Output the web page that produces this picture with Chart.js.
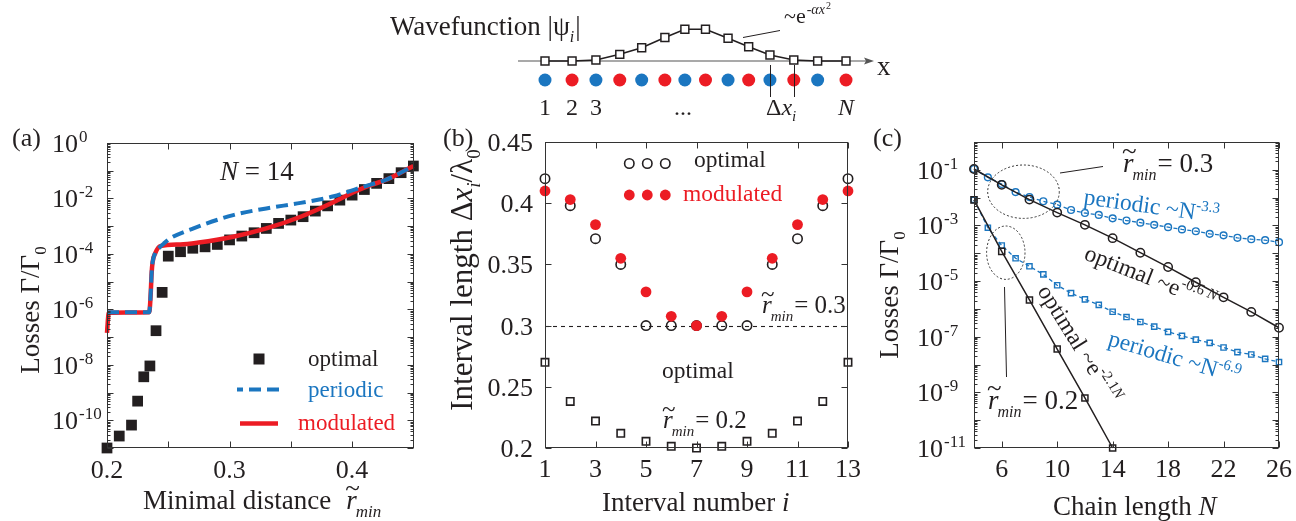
<!DOCTYPE html>
<html><head><meta charset="utf-8">
<script src="https://cdn.jsdelivr.net/npm/chart.js@4.4.1/dist/chart.umd.min.js"></script>
<style>
html,body{margin:0;padding:0;background:#fff;width:1296px;height:521px;overflow:hidden}
canvas{position:absolute;left:0;top:0;width:1296px;height:521px}
</style></head><body>
<canvas id="cs" width="1296" height="521"></canvas>
<canvas id="ca" width="1296" height="521"></canvas>
<canvas id="cb" width="1296" height="521"></canvas>
<canvas id="cc" width="1296" height="521"></canvas>
<script>
// ================= DATA =================
// schematic: site positions (in units of lambda_0) and |psi_i|
const sitePos = [0, 0.42, 0.79, 1.16, 1.50, 1.86, 2.17, 2.49, 2.84, 3.16, 3.49, 3.86, 4.23, 4.67];
const psiAbs  = [0.0, 0.0, 0.03, 0.21, 0.42, 0.74, 1.0, 1.0, 0.72, 0.45, 0.19, 0.03, 0.0, 0.0];

// (a) losses vs minimal distance, N = 14
const aOptX = [0.2,0.21,0.22,0.225,0.23,0.235,0.24,0.245,0.25,0.26,0.27,0.28,0.29,0.30,0.31,0.32,0.33,0.34,0.35,0.36,0.37,0.38,0.39,0.40,0.41,0.42,0.43,0.44,0.45];
const aOptY = [1.0e-11,2.7e-11,6.7e-11,4.9e-10,3.7e-9,9.1e-9,1.7e-7,4.1e-6,8.3e-5,1.2e-4,1.6e-4,1.8e-4,2.2e-4,3.2e-4,4.4e-4,5.8e-4,8.3e-4,1.26e-3,1.66e-3,2.2e-3,3.5e-3,5.4e-3,8.7e-3,1.32e-2,2.1e-2,3.5e-2,5.2e-2,8.5e-2,0.148];
const aPerX = [0.2,0.2345,0.2352,0.2358,0.2364,0.2372,0.2394,0.2435,0.2462,0.2516,0.2706,0.303,0.33,0.358,0.385,0.402,0.415,0.427,0.45];
const aPerY = [7.94e-7,7.94e-7,1.58e-6,5.01e-6,2.0e-5,5.01e-5,1.07e-4,1.82e-4,2.34e-4,3.63e-4,8.32e-4,2.51e-3,4.37e-3,6.92e-3,1.2e-2,2.09e-2,3.16e-2,4.57e-2,0.148];
const aModX = [0.2,0.2004,0.2009,0.2015,0.2345,0.2352,0.2358,0.2364,0.2372,0.2394,0.2435,0.2598,0.2748,0.303,0.33,0.358,0.385,0.402,0.415,0.427,0.45];
const aModY = [1.41e-7,2.51e-7,5.01e-7,7.59e-7,7.94e-7,1.58e-6,5.01e-6,2.0e-5,5.01e-5,1.07e-4,1.91e-4,2.19e-4,2.57e-4,4.17e-4,8.32e-4,2.19e-3,7.41e-3,1.74e-2,3.02e-2,4.57e-2,0.148];
const aXTickVals = [0.2,0.3,0.4];
const aXTickLabels = ['0.2','0.3','0.4'];
const aYTickVals = [1,1e-2,1e-4,1e-6,1e-8,1e-10];
const aYTickExps = ['0','-2','-4','-6','-8','-10'];

// (b) interval lengths
const bInterval = [1,2,3,4,5,6,7,8,9,10,11,12,13];
const bOptimal03 = [0.42,0.398,0.371,0.350,0.300,0.300,0.300,0.300,0.300,0.350,0.371,0.398,0.42];
const bModulated03 = [0.41,0.403,0.3825,0.355,0.3275,0.3076,0.300,0.3076,0.3275,0.355,0.3825,0.403,0.41];
const bOptimal02 = [0.27,0.238,0.222,0.212,0.2055,0.2014,0.200,0.2014,0.2055,0.212,0.222,0.238,0.27];
const bRmin03 = 0.3;
const bXTickVals = [1,3,5,7,9,11,13];
const bYTickVals = [0.2,0.25,0.3,0.35,0.4,0.45];
const bYTickLabels = ['0.2','0.25','0.3','0.35','0.4','0.45'];

// (c) losses vs chain length
const cNopt = [4,6,8,10,12,14,16,18,20,22,24,26];
const cOpt03 = [0.107,2.88e-2,8.5e-3,2.9e-3,1.05e-3,3.5e-4,1.05e-4,3.2e-5,9.1e-6,2.6e-6,7.8e-7,2.1e-7];
const cNper = [4,5,6,7,8,9,10,11,12,13,14,15,16,17,18,19,20,21,22,23,24,25,26];
const cPer03 = [0.107,5.37e-2,3.09e-2,1.58e-2,1.05e-2,7.4e-3,5.6e-3,3.6e-3,2.8e-3,2.4e-3,1.8e-3,1.5e-3,1.26e-3,1.05e-3,8.7e-4,7.2e-4,6.2e-4,5.0e-4,4.4e-4,3.6e-4,3.2e-4,2.95e-4,2.5e-4];
const cNopt02 = [4,6,8,10,12,14];
const cOpt02 = [8.3e-3,1.17e-4,2.1e-6,3.6e-8,6.3e-10,1.0e-11];
const cPer02 = [8.3e-3,8.3e-4,1.9e-4,6.6e-5,3.4e-5,1.74e-5,7.1e-6,3.7e-6,2.2e-6,1.4e-6,7.9e-7,5.1e-7,3.4e-7,2.3e-7,1.5e-7,1.07e-7,7.9e-8,6.0e-8,4.1e-8,2.8e-8,2.3e-8,1.6e-8,1.23e-8];
const cXTickVals = [6,10,14,18,22,26];
const cYTickVals = [1e-1,1e-3,1e-5,1e-7,1e-9,1e-11];
const cYTickExps = ['-1','-3','-5','-7','-9','-11'];

// ================= STYLE / HELPERS =================
const FONT = '"Liberation Serif","Times New Roman",serif';
const INK = '#231f20', BLUE = '#1b76c0', RED = '#ec1c24', FRAME = '#333';
const fnt = (s, i) => (i ? 'italic ' : '') + s + 'px ' + FONT;
const pts = (xs, ys) => xs.map((x, i) => ({x: x, y: ys[i]}));

function rich(ctx, x, y, segs, o) {
  o = o || {};
  const align = o.align || 'left', color = o.color || INK, rot = o.rot || 0;
  ctx.save(); ctx.translate(x, y); if (rot) ctx.rotate(rot);
  ctx.textBaseline = 'alphabetic'; ctx.textAlign = 'left';
  const ws = []; let w = 0;
  segs.forEach(s => { ctx.font = fnt(s.s, s.i); const m = ctx.measureText(s.t).width; ws.push(m); if (!s.over) w += m + (s.dx || 0); });
  let cx = align === 'center' ? -w / 2 : (align === 'right' ? -w : 0);
  let px = 0, pw = 0;
  segs.forEach((s, k) => {
    ctx.font = fnt(s.s, s.i); ctx.fillStyle = s.c || color;
    if (s.over) { ctx.fillText(s.t, px + pw / 2 - ws[k] / 2 + (s.dx || 0), s.dy || 0); return; }
    cx += (s.dx || 0); ctx.fillText(s.t, cx, s.dy || 0); px = cx; pw = ws[k]; cx += ws[k];
  });
  ctx.restore();
}
function rmin(size, sub) {
  return [{t: 'r', s: size, i: true}, {t: '~', s: size, over: true, dy: -0.46 * size, dx: 1},
          {t: 'min', s: sub, i: true, dy: 0.3 * size, dx: -1}];
}
function baseOpts(area, sx, sy) {
  return {
    responsive: false, animation: false, devicePixelRatio: 1, events: [],
    layout: {padding: {left: area.l, top: area.t, right: 1296 - area.r, bottom: 521 - area.b}},
    plugins: {legend: {display: false}, tooltip: {enabled: false}},
    scales: {x: Object.assign({display: false}, sx), y: Object.assign({display: false}, sy)}
  };
}
function line(ctx, x1, y1, x2, y2) { ctx.moveTo(x1, y1); ctx.lineTo(x2, y2); }
function frame(chart, cfg) {
  const ctx = chart.ctx, a = chart.chartArea, x = chart.scales.x, y = chart.scales.y;
  const L = Math.round(a.left) + 0.5, R = Math.round(a.right) - 0.5, T = Math.round(a.top) + 0.5, B = Math.round(a.bottom) - 0.5;
  ctx.save();
  ctx.strokeStyle = FRAME; ctx.lineWidth = 1;
  ctx.strokeRect(L, T, R - L, B - T);
  ctx.beginPath();
  cfg.xMarks.forEach(v => { const p = Math.round(x.getPixelForValue(v)) + 0.5; line(ctx, p, B, p, B - 6); line(ctx, p, T, p, T + 6); });
  cfg.yMarks.forEach(v => { const p = Math.round(y.getPixelForValue(v)) + 0.5; line(ctx, L, p, L + 6, p); line(ctx, R, p, R - 6, p); });
  (cfg.yMinor || []).forEach(v => { const p = Math.round(y.getPixelForValue(v)) + 0.5; line(ctx, L, p, L + 3, p); line(ctx, R, p, R - 3, p); });
  ctx.stroke();
  ctx.restore();
}
function logMarks(lo, hi) { const m = []; for (let e = lo; e <= hi; e++) m.push(Math.pow(10, e)); return m; }
function logMinor(lo, hi) { const m = []; for (let e = lo; e < hi; e++) for (let k = 2; k < 10; k++) m.push(k * Math.pow(10, e)); return m; }

// ================= SCHEMATIC =================
new Chart(document.getElementById('cs'), {
  type: 'line',
  data: {datasets: [{
    data: pts(sitePos, psiAbs), borderColor: INK, borderWidth: 1.6, tension: 0,
    pointStyle: 'rect', pointRadius: 5.6, pointBorderWidth: 1.5, pointBorderColor: INK, pointBackgroundColor: '#fff', clip: false
  }]},
  options: baseOpts({l: 545, t: 29.3, r: 846, b: 61}, {type: 'linear', min: 0, max: 4.67}, {type: 'linear', min: 0, max: 1}),
  plugins: [{
    id: 'schem',
    beforeDatasetsDraw(chart) {
      const ctx = chart.ctx, y0 = chart.scales.y.getPixelForValue(0);
      ctx.save(); ctx.strokeStyle = '#555'; ctx.fillStyle = '#555'; ctx.lineWidth = 1.2;
      ctx.beginPath(); ctx.moveTo(518, y0); ctx.lineTo(868, y0); ctx.stroke();
      ctx.beginPath(); ctx.moveTo(874, y0); ctx.lineTo(864, y0 - 3.5); ctx.lineTo(866, y0); ctx.lineTo(864, y0 + 3.5); ctx.closePath(); ctx.fill();
      ctx.restore();
    },
    afterDraw(chart) {
      const ctx = chart.ctx, xs = chart.scales.x, y0 = chart.scales.y.getPixelForValue(0);
      ctx.save();
      sitePos.forEach((p, i) => {
        ctx.beginPath(); ctx.fillStyle = i % 2 === 0 ? BLUE : RED;
        ctx.arc(xs.getPixelForValue(p), y0 + 19, 6.5, 0, Math.PI * 2); ctx.fill();
      });
      ctx.strokeStyle = INK; ctx.lineWidth = 1; ctx.beginPath();
      [10, 11].forEach(i => { const px = Math.round(xs.getPixelForValue(sitePos[i])) + 0.5; line(ctx, px, y0 + 4, px, y0 + 36); });
      line(ctx, 743, 37.5, 780, 30.5);
      ctx.stroke();
      ctx.restore();
      rich(ctx, 390, 35, [{t: 'Wavefunction |ψ', s: 27}, {t: 'i', s: 16, i: true, dy: 7}, {t: '|', s: 27, dx: 1}]);
      rich(ctx, 784, 23, [{t: '~e', s: 22}, {t: '-', s: 14, dy: -9, dx: 1}, {t: 'αx', s: 14, i: true, dy: -9}, {t: '2', s: 10, dy: -14, dx: 1}]);
      rich(ctx, 877, 75, [{t: 'x', s: 27}]);
      ['1', '2', '3'].forEach((t, i) => rich(ctx, xs.getPixelForValue(sitePos[i]), 115, [{t: t, s: 24}], {align: 'center'}));
      rich(ctx, 683, 115, [{t: '...', s: 24}], {align: 'center'});
      rich(ctx, 766, 115, [{t: 'Δ', s: 24}, {t: 'x', s: 24, i: true}, {t: 'i', s: 15, i: true, dy: 6}]);
      rich(ctx, xs.getPixelForValue(sitePos[13]), 115, [{t: 'N', s: 24, i: true}], {align: 'center'});
    }
  }]
});

// ================= PANEL (a) =================
new Chart(document.getElementById('ca'), {
  type: 'line',
  data: {datasets: [
    {data: pts(aPerX, aPerY), borderColor: BLUE, borderWidth: 4, borderDash: [12, 6], pointRadius: 0, cubicInterpolationMode: 'monotone', order: 0, clip: false},
    {data: pts(aModX, aModY), borderColor: RED, borderWidth: 4.5, pointRadius: 0, cubicInterpolationMode: 'monotone', order: 1, clip: false},
    {data: pts(aOptX, aOptY), showLine: false, pointStyle: 'rect', pointRadius: 7.6, pointBorderWidth: 0, pointBorderColor: INK, pointBackgroundColor: INK, order: 2, clip: false}
  ]},
  options: baseOpts({l: 107, t: 143, r: 414, b: 448}, {type: 'linear', min: 0.2, max: 0.4505}, {type: 'logarithmic', min: 1e-11, max: 1}),
  plugins: [{
    id: 'pa',
    afterDraw(chart) {
      const ctx = chart.ctx, x = chart.scales.x, y = chart.scales.y, a = chart.chartArea;
      frame(chart, {xMarks: [0.2, 0.25, 0.3, 0.35, 0.4, 0.45], yMarks: logMarks(-11, 0), yMinor: logMinor(-11, 0)});
      aYTickVals.forEach((v, i) => {
        const p = y.getPixelForValue(v);
        rich(ctx, a.left - 29, p + 9, [{t: '10', s: 26}], {align: 'right'});
        rich(ctx, a.left - 28, p - 1, [{t: aYTickExps[i], s: 17}]);
      });
      aXTickVals.forEach((v, i) => rich(ctx, x.getPixelForValue(v), 478, [{t: aXTickLabels[i], s: 26}], {align: 'center'}));
      rich(ctx, 38.5, 310, [{t: 'Losses Γ/Γ', s: 27}, {t: '0', s: 17, dy: 7}], {align: 'center', rot: -Math.PI / 2});
      rich(ctx, 143, 509, [{t: 'Minimal distance', s: 27}].concat([{t: 'r', s: 27, i: true, dx: 15}, {t: '~', s: 27, over: true, dy: -12, dx: 1}, {t: 'min', s: 17, i: true, dy: 8, dx: -1}]));
      rich(ctx, 12, 146, [{t: '(a)', s: 26}]);
      rich(ctx, 220, 180, [{t: 'N', s: 27, i: true}, {t: ' = 14', s: 27}]);
      // legend
      ctx.save();
      ctx.fillStyle = INK; ctx.fillRect(253.5, 353.5, 11, 11);
      ctx.lineWidth = 4; ctx.strokeStyle = BLUE; ctx.setLineDash([12, 6]); ctx.lineDashOffset = 6;
      ctx.beginPath(); ctx.moveTo(237, 389.5); ctx.lineTo(281, 389.5); ctx.stroke();
      ctx.setLineDash([]); ctx.lineWidth = 4.5; ctx.strokeStyle = RED;
      ctx.beginPath(); ctx.moveTo(240, 423.5); ctx.lineTo(278, 423.5); ctx.stroke();
      ctx.restore();
      rich(ctx, 308, 366, [{t: 'optimal', s: 23}]);
      rich(ctx, 308, 397, [{t: 'periodic', s: 23}], {color: BLUE});
      rich(ctx, 298, 430, [{t: 'modulated', s: 23}], {color: RED});
    }
  }]
});

// ================= PANEL (b) =================
new Chart(document.getElementById('cb'), {
  type: 'line',
  data: {datasets: [
    {data: pts(bInterval, bModulated03), showLine: false, pointStyle: 'circle', pointRadius: 5.4, pointBorderWidth: 0, pointBackgroundColor: RED, pointBorderColor: RED, order: 0, clip: false},
    {data: pts(bInterval, bOptimal03), showLine: false, pointStyle: 'circle', pointRadius: 4.7, pointBorderWidth: 1.6, pointBackgroundColor: 'rgba(0,0,0,0)', pointBorderColor: INK, order: 1, clip: false},
    {data: pts(bInterval, bOptimal02), showLine: false, pointStyle: 'rect', pointRadius: 5.2, pointBorderWidth: 1.6, pointBackgroundColor: 'rgba(0,0,0,0)', pointBorderColor: INK, order: 2, clip: false}
  ]},
  options: baseOpts({l: 545, t: 142, r: 848, b: 448}, {type: 'linear', min: 1, max: 13}, {type: 'linear', min: 0.2, max: 0.45}),
  plugins: [{
    id: 'pb',
    beforeDatasetsDraw(chart) {
      const ctx = chart.ctx, a = chart.chartArea, p = Math.round(chart.scales.y.getPixelForValue(bRmin03)) + 0.5;
      ctx.save(); ctx.strokeStyle = INK; ctx.lineWidth = 1.1; ctx.setLineDash([4, 4]);
      ctx.beginPath(); ctx.moveTo(a.left, p); ctx.lineTo(a.right, p); ctx.stroke(); ctx.restore();
    },
    afterDraw(chart) {
      const ctx = chart.ctx, x = chart.scales.x, y = chart.scales.y, a = chart.chartArea;
      frame(chart, {xMarks: bXTickVals, yMarks: bYTickVals});
      bYTickVals.forEach((v, i) => rich(ctx, a.left - 12, y.getPixelForValue(v) + 9, [{t: bYTickLabels[i], s: 26}], {align: 'right'}));
      bXTickVals.forEach(v => rich(ctx, x.getPixelForValue(v), 477, [{t: String(v), s: 26}], {align: 'center'}));
      rich(ctx, 472, 280, [{t: 'Interval length Δ', s: 31}, {t: 'x', s: 31, i: true}, {t: 'i', s: 19, i: true, dy: 8}, {t: '/λ', s: 31}, {t: '0', s: 19, dy: 8}], {align: 'center', rot: -Math.PI / 2});
      rich(ctx, 602, 511, [{t: 'Interval number ', s: 27}, {t: 'i', s: 27, i: true}]);
      rich(ctx, 443, 146, [{t: '(b)', s: 26}]);
      // legend
      ctx.save();
      [629.3, 647.3, 665.3].forEach(cx => {
        ctx.beginPath(); ctx.strokeStyle = INK; ctx.lineWidth = 1.6; ctx.arc(cx, 163.5, 4.7, 0, Math.PI * 2); ctx.stroke();
        ctx.beginPath(); ctx.fillStyle = RED; ctx.arc(cx, 195, 5.4, 0, Math.PI * 2); ctx.fill();
      });
      ctx.restore();
      rich(ctx, 694, 167, [{t: 'optimal', s: 23.5}]);
      rich(ctx, 683, 201, [{t: 'modulated', s: 23.5}], {color: RED});
      rich(ctx, 762, 313, rmin(25, 15).concat([{t: '= 0.3', s: 25, dx: 1}]));
      rich(ctx, 662, 378, [{t: 'optimal', s: 23.5}]);
      rich(ctx, 663, 428, rmin(25, 15).concat([{t: '= 0.2', s: 25, dx: 1}]));
    }
  }]
});

// ================= PANEL (c) =================
new Chart(document.getElementById('cc'), {
  type: 'line',
  data: {datasets: [
    {data: pts(cNper, cPer03), borderColor: BLUE, borderWidth: 1.3, borderDash: [4, 3], pointStyle: 'circle', pointRadius: 3.4, pointBorderWidth: 1.4, pointBorderColor: BLUE, pointBackgroundColor: 'rgba(0,0,0,0)', order: 2, clip: false},
    {data: pts(cNper, cPer02), borderColor: BLUE, borderWidth: 1.3, borderDash: [4, 3], pointStyle: 'rect', pointRadius: 3.7, pointBorderWidth: 1.4, pointBorderColor: BLUE, pointBackgroundColor: 'rgba(0,0,0,0)', order: 3, clip: false},
    {data: pts(cNopt, cOpt03), borderColor: INK, borderWidth: 1.5, pointStyle: 'circle', pointRadius: 4.2, pointBorderWidth: 1.5, pointBorderColor: INK, pointBackgroundColor: 'rgba(0,0,0,0)', order: 0, clip: false},
    {data: pts(cNopt02, cOpt02), borderColor: INK, borderWidth: 1.5, pointStyle: 'rect', pointRadius: 4.3, pointBorderWidth: 1.5, pointBorderColor: INK, pointBackgroundColor: 'rgba(0,0,0,0)', order: 1, clip: false}
  ]},
  options: baseOpts({l: 974, t: 142, r: 1279, b: 448}, {type: 'linear', min: 4, max: 26}, {type: 'logarithmic', min: 1e-11, max: 1}),
  plugins: [{
    id: 'pc',
    afterDraw(chart) {
      const ctx = chart.ctx, x = chart.scales.x, y = chart.scales.y, a = chart.chartArea;
      frame(chart, {xMarks: cXTickVals, yMarks: logMarks(-11, 0), yMinor: logMinor(-11, 0)});
      cYTickVals.forEach((v, i) => {
        const p = y.getPixelForValue(v);
        rich(ctx, a.left - 31, p + 9, [{t: '10', s: 26}], {align: 'right'});
        rich(ctx, a.left - 30, p - 1, [{t: cYTickExps[i], s: 17}]);
      });
      cXTickVals.forEach(v => rich(ctx, x.getPixelForValue(v), 477, [{t: String(v), s: 26}], {align: 'center'}));
      rich(ctx, 898, 295, [{t: 'Losses Γ/Γ', s: 27}, {t: '0', s: 17, dy: 7}], {align: 'center', rot: -Math.PI / 2});
      rich(ctx, 1053, 515, [{t: 'Chain length ', s: 27}, {t: 'N', s: 27, i: true}]);
      rich(ctx, 873, 146, [{t: '(c)', s: 26}]);
      // ellipses and leaders
      ctx.save(); ctx.strokeStyle = '#333'; ctx.lineWidth = 1; ctx.setLineDash([2, 2]);
      ctx.beginPath(); ctx.ellipse(1023.5, 191.7, 35.8, 26.7, 0, 0, Math.PI * 2); ctx.stroke();
      ctx.beginPath(); ctx.ellipse(1005.8, 252.7, 19.2, 26.7, 0, 0, Math.PI * 2); ctx.stroke();
      ctx.setLineDash([]); ctx.strokeStyle = INK;
      ctx.beginPath(); line(ctx, 1060, 173, 1103, 166.5); line(ctx, 1004.5, 287, 1006.5, 377); ctx.stroke();
      ctx.restore();
      rich(ctx, 1123, 172, rmin(27, 16).concat([{t: '= 0.3', s: 27, dx: 1}]));
      rich(ctx, 988, 409, rmin(27, 16).concat([{t: '= 0.2', s: 27, dx: 1}]));
      const d = Math.PI / 180;
      rich(ctx, 1083, 204, [{t: 'periodic ~N', s: 23.5}, {t: '-3.3', s: 15, dy: -10}], {color: BLUE, rot: 8 * d});
      rich(ctx, 1083, 259, [{t: 'optimal ~e', s: 23.5}, {t: '-0.6 ', s: 15, dy: -10}, {t: 'N', s: 15, i: true, dy: -10}], {rot: 21.5 * d});
      rich(ctx, 1107, 345, [{t: 'periodic ~N', s: 23.5}, {t: '-6.9', s: 15, dy: -10}], {color: BLUE, rot: 16.5 * d});
      rich(ctx, 1037, 291, [{t: 'optimal ~e', s: 23.5}, {t: '-2.1', s: 15, dy: -10}, {t: 'N', s: 15, i: true, dy: -10}], {rot: 58 * d});
    }
  }]
});
</script>
</body></html>
